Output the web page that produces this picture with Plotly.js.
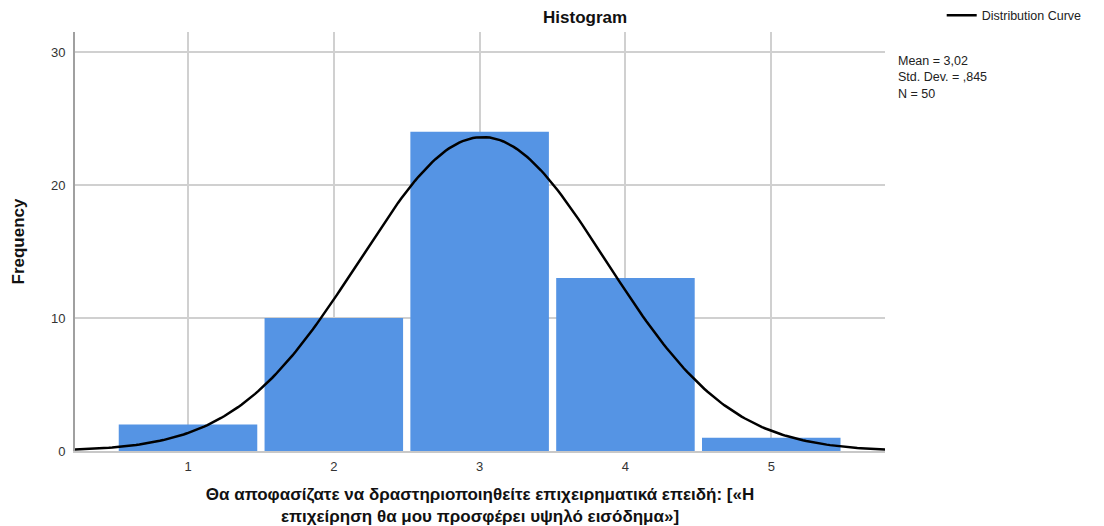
<!DOCTYPE html>
<html><head><meta charset="utf-8">
<script src="https://cdn.plot.ly/plotly-3.0.1.min.js"></script>
<style>body{margin:0;background:#fff}#c{width:1104px;height:526px}</style>
</head><body><div id="c"></div>
<script>
var categories = [1, 2, 3, 4, 5];
var frequencies = [2, 10, 24, 13, 1];
var statMean = 3.02;
var statSD = 0.845;
var statN = 50;
var tickLabels = ['1', '2', '3', '4', '5'];

// Normal distribution curve from reported statistics (bin width 1)
var cx = [], cy = [];
var x0 = 0.2, x1 = 5.8, steps = 240;
for (var i = 0; i <= steps; i++) {
  var x = x0 + (x1 - x0) * i / steps;
  cx.push(x);
  cy.push(statN / (statSD * Math.sqrt(2 * Math.PI)) * Math.exp(-0.5 * Math.pow((x - statMean) / statSD, 2)));
}

var font = 'Liberation Sans, Arial, sans-serif';
var data = [
  {type: 'bar', x: categories, y: frequencies, width: 0.95,
   marker: {color: '#5594e4', line: {color: '#ffffff', width: 0}},
   showlegend: false, hoverinfo: 'x+y'},
  {type: 'scatter', mode: 'lines', x: cx, y: cy, name: 'Distribution Curve',
   line: {color: '#000000', width: 2.5}, showlegend: true}
];
var layout = {
  width: 1104, height: 526,
  margin: {l: 75, r: 219, t: 32, b: 75, autoexpand: false},
  paper_bgcolor: '#fff', plot_bgcolor: '#fff',
  font: {family: font, color: '#222'},
  title: {text: '<b>Histogram</b>', font: {size: 17, color: '#111', family: font},
          x: 0.53, xanchor: 'center', y: 0.967, yanchor: 'middle'},
  xaxis: {range: [0.225, 5.78], tickvals: categories, ticktext: tickLabels,
          showgrid: true, gridcolor: '#d0d0d0', gridwidth: 1.5, zeroline: false,
          showline: true, linecolor: '#c8c8c8', linewidth: 1.5, ticks: '', ticklabelstandoff: 3,
          tickfont: {size: 13, color: '#333'},
          title: {text: '<b>Θα αποφασίζατε να δραστηριοποιηθείτε επιχειρηματικά επειδή: [«Η<br>επιχείρηση θα μου προσφέρει υψηλό εισόδημα»]</b>',
                  font: {size: 17, color: '#111'}, standoff: 22}},
  yaxis: {range: [0, 31.5], tickvals: [0, 10, 20, 30], showgrid: true, gridcolor: '#d0d0d0', gridwidth: 1.5,
          zeroline: false, showline: true, linecolor: '#a0a0a0', linewidth: 2, ticks: '',
          tickfont: {size: 13, color: '#333'}, ticklabelstandoff: 5,
          title: {text: '<b>Frequency</b>', font: {size: 17, color: '#111'}, standoff: 22}},
  legend: {x: 1.07, y: 1.075, xanchor: 'left', yanchor: 'top', font: {size: 12.5, color: '#222'},
           itemwidth: 30, bgcolor: 'rgba(0,0,0,0)', tracegroupgap: 0},
  annotations: [{xref: 'paper', yref: 'paper', x: 1.0136, y: 0.952, xanchor: 'left', yanchor: 'top',
                 align: 'left', showarrow: false, font: {size: 12.5, color: '#222'},
                 text: 'Mean = 3,02<br>Std. Dev. = ,845<br>N = 50'}],
  bargap: 0.05
};
Plotly.newPlot('c', data, layout, {displayModeBar: false});
</script></body></html>
